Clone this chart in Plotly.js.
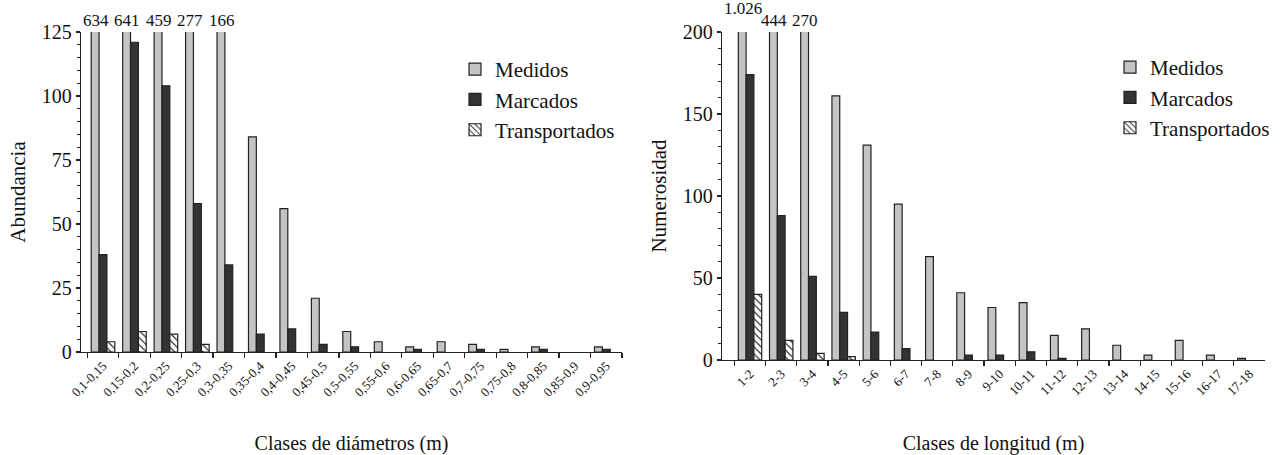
<!DOCTYPE html>
<html>
<head>
<meta charset="utf-8">
<script src="https://cdn.plot.ly/plotly-3.0.1.min.js"></script>
<style>html,body{margin:0;padding:0;background:#fff;}#chart{width:1288px;height:455px;}</style>
</head>
<body>
<div id="chart"></div>
<script>
// ---- Data ----
const diamClasses = ["0,1-0,15","0,15-0,2","0,2-0,25","0,25-0,3","0,3-0,35","0,35-0,4","0,4-0,45","0,45-0,5","0,5-0,55","0,55-0,6","0,6-0,65","0,65-0,7","0,7-0,75","0,75-0,8","0,8-0,85","0,85-0,9","0,9-0,95"];
const diamMedidos = [634, 641, 459, 277, 166, 84, 56, 21, 8, 4, 2, 4, 3, 1, 2, 0, 2];
const diamMarcados = [38, 121, 104, 58, 34, 7, 9, 3, 2, 0, 1, 0, 1, 0, 1, 0, 1];
const diamTransportados = [4, 8, 7, 3, 0, 0, 0, 0, 0, 0, 0, 0, 0, 0, 0, 0, 0];

const longClasses = ["1-2","2-3","3-4","4-5","5-6","6-7","7-8","8-9","9-10","10-11","11-12","12-13","13-14","14-15","15-16","16-17","17-18"];
const longMedidos = [1026, 444, 270, 161, 131, 95, 63, 41, 32, 35, 15, 19, 9, 3, 12, 3, 1];
const longMarcados = [174, 88, 51, 29, 17, 7, 0, 3, 3, 5, 1, 0, 0, 0, 0, 0, 0];
const longTransportados = [40, 12, 4, 2, 0, 0, 0, 0, 0, 0, 0, 0, 0, 0, 0, 0, 0];

const diamTicks = [0, 25, 50, 75, 100, 125];
const longTicks = [0, 50, 100, 150, 200];
const diamMax = 125;
const longMax = 200;

// ---- Styles ----
const FONT = "'Liberation Serif', 'Times New Roman', Times, serif";
const cMed = "#c4c4c4", cMar = "#333333", edge = "#222222";

function series(x, y, name, xa, ya, lg, kind) {
  const t = {type: "bar", x: x, y: y.map(v => (v === 0 ? null : v)), name: name, xaxis: xa, yaxis: ya, legend: lg,
    marker: {line: {color: edge, width: 1.2}}, cliponaxis: true, hoverinfo: "skip"};
  if (kind === 0) t.marker.color = cMed;
  else if (kind === 1) t.marker.color = cMar;
  else { t.marker.color = "#ffffff"; t.marker.pattern = {shape: "\\", fgcolor: "#333", bgcolor: "#fff", size: 5, solidity: 0.25}; }
  return t;
}

const data = [
  series(diamClasses, diamMedidos, "Medidos", "x", "y", "legend", 0),
  series(diamClasses, diamMarcados, "Marcados", "x", "y", "legend", 1),
  series(diamClasses, diamTransportados, "Transportados", "x", "y", "legend", 2),
  series(longClasses, longMedidos, "Medidos", "x2", "y2", "legend2", 0),
  series(longClasses, longMarcados, "Marcados", "x2", "y2", "legend2", 1),
  series(longClasses, longTransportados, "Transportados", "x2", "y2", "legend2", 2)
];

function fmt(v) { return v >= 1000 ? String(v).replace(/(\d)(\d{3})$/, "$1.$2") : String(v); }
const annotations = [];
function overflow(cats, vals, max, xref, yref) {
  vals.forEach((v, i) => {
    if (v > max) {
      const txt = fmt(v);
      annotations.push({x: cats[i], y: max, xref: xref, yref: yref, text: txt, showarrow: false,
        xanchor: "center", yanchor: "bottom", xshift: -7, yshift: txt.length > 3 ? 12 : 0,
        font: {family: FONT, size: 17, color: "#111"}});
    }
  });
}
overflow(diamClasses, diamMedidos, diamMax, "x", "y");
overflow(longClasses, longMedidos, longMax, "x2", "y2");

const axisFont = {family: FONT, size: 20, color: "#111"};
const xCommon = {type: "category", tickson: "boundaries", ticks: "outside", ticklen: 5, tickwidth: 1.2,
  tickcolor: "#222", showline: true, linecolor: "#222", linewidth: 1.2, showgrid: false, zeroline: false,
  tickangle: -45, tickfont: {family: FONT, size: 13, color: "#111"}, automargin: false};
const yCommon = {showline: true, linecolor: "#222", linewidth: 1.2, ticks: "outside", ticklen: 4, tickwidth: 1.2,
  tickcolor: "#222", showgrid: false, zeroline: false, tickfont: axisFont, tickmode: "array", automargin: false};

const layout = {
  width: 1288, height: 455,
  margin: {l: 0, r: 0, t: 0, b: 0},
  paper_bgcolor: "#fff", plot_bgcolor: "#fff",
  barmode: "group", bargap: 0.25, bargroupgap: 0,
  showlegend: true,
  font: {family: FONT, color: "#111"},
  xaxis: Object.assign({}, xCommon, {domain: [81/1288, 622/1288], anchor: "y",
    title: {text: "Clases de diámetros (m)", font: {family: FONT, size: 20, color: "#111"}, standoff: 38}}),
  yaxis: Object.assign({}, yCommon, {domain: [1 - 352/455, 1 - 32/455], anchor: "x", range: [0, diamMax],
    tickvals: diamTicks, minor: {dtick: 5, ticks: "outside", ticklen: 3, tickcolor: "#222", showgrid: false},
    title: {text: "Abundancia", font: {family: FONT, size: 21, color: "#111"}, standoff: 10}}),
  xaxis2: Object.assign({}, xCommon, {domain: [722/1288, 1265/1288], anchor: "y2",
    title: {text: "Clases de longitud (m)", font: {family: FONT, size: 20, color: "#111"}, standoff: 38}}),
  yaxis2: Object.assign({}, yCommon, {domain: [1 - 360/455, 1 - 32/455], anchor: "x2", range: [0, longMax],
    tickvals: longTicks, minor: {dtick: 10, ticks: "outside", ticklen: 3, tickcolor: "#222", showgrid: false},
    title: {text: "Numerosidad", font: {family: FONT, size: 21, color: "#111"}, standoff: 10}}),
  legend: {x: 455/1288, y: 1 - 49/455, xanchor: "left", yanchor: "top", bgcolor: "rgba(0,0,0,0)",
    font: {family: FONT, size: 21, color: "#111"}, tracegroupgap: 0},
  legend2: {x: 1110/1288, y: 1 - 47/455, xanchor: "left", yanchor: "top", bgcolor: "rgba(0,0,0,0)",
    font: {family: FONT, size: 21, color: "#111"}, tracegroupgap: 0},
  annotations: annotations
};

Plotly.newPlot("chart", data, layout, {staticPlot: true, displayModeBar: false});
</script>
</body>
</html>
